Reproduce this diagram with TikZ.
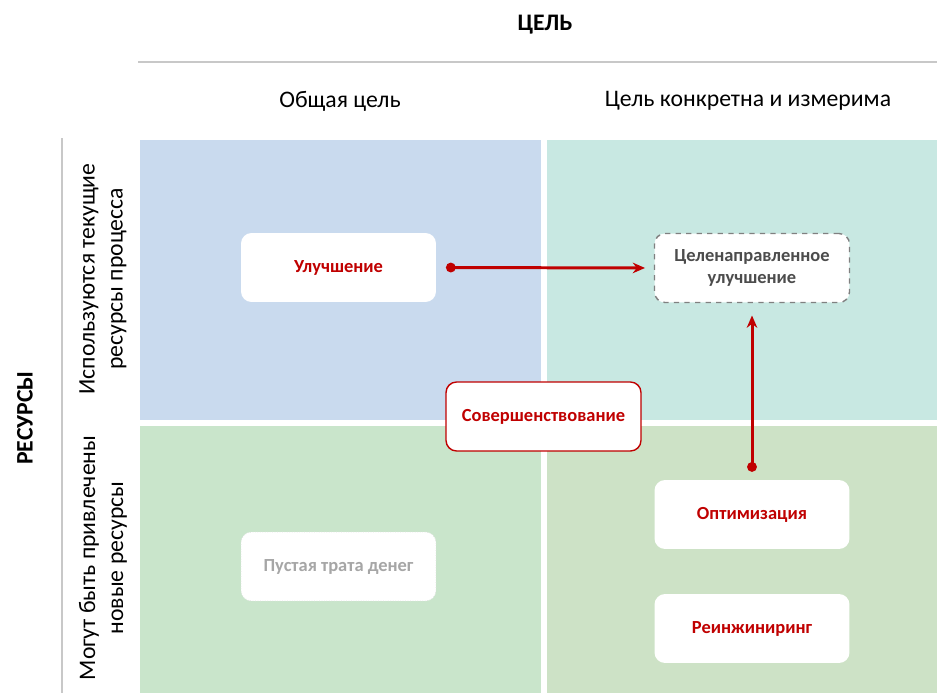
\documentclass[tikz,border=0pt]{standalone}
\usepackage{fontspec}
\setmainfont{Carlito}
\usetikzlibrary{arrows.meta}

\definecolor{qblue}{HTML}{C9DAEE}
\definecolor{qteal}{HTML}{C8E8E2}
\definecolor{qgreen}{HTML}{C9E5CB}
\definecolor{qolive}{HTML}{CDE2C6}
\definecolor{accent}{HTML}{C00000}
\definecolor{rulegray}{HTML}{C8C8C8}

\begin{document}
\begin{tikzpicture}[
    x=0.02cm, y=-0.02cm,
    font=\fontsize{13.5}{16}\selectfont,
    >={Stealth[length=7pt,width=6pt]},
    quad/.style={fill=#1, draw=none},
    box/.style={
        fill=white, rounded corners=6pt, minimum width=3.9cm, minimum height=1.38cm,
        align=center, inner sep=2pt, font=\fontsize{10.5}{13}\selectfont\bfseries, text=accent
    },
    hdr/.style={font=\fontsize{13.5}{16}\selectfont\bfseries},
    lbl/.style={font=\fontsize{13.5}{16}\selectfont, align=center},
    link/.style={{Circle[length=5.5pt]}->, draw=accent, line width=1.7pt},
]
\useasboundingbox (0,0) rectangle (937,693);

% ---- Headers ------------------------------------------------------
\node[hdr] (goal) at (545,25) {ЦЕЛЬ};
\draw[rulegray, line width=1.2pt] (138,62) -- (937,62);
\node[lbl] (general) at (340,101) {Общая цель};
\node[lbl] (specific) at (748,101) {Цель конкретна и измерима};

\node[hdr, rotate=90] (res) at (25,418) {РЕСУРСЫ};
\draw[rulegray, line width=1.2pt] (62,138) -- (62,693);
\node[lbl, rotate=90] (current) at (103,279) {Используются текущие\\ресурсы процесса};
\node[lbl, rotate=90] (newres) at (103,558) {Могут быть привлечены\\новые ресурсы};

% ---- Quadrants -----------------------------------------------------
\fill[qblue]  (140,140) rectangle (541,420);
\fill[qteal]  (547,140) rectangle (937,420);
\fill[qgreen] (140,426) rectangle (541,693);
\fill[qolive] (547,426) rectangle (937,693);

% ---- Boxes ---------------------------------------------------------
\node[box] (impr) at (338.5,267.5) {Улучшение};
\node[box, draw=black!50, dashed, line width=0.8pt, text=black!70] (target) at (752,268) {Целенаправленное\\улучшение};
\node[box, draw=accent, line width=0.8pt] (perf) at (543.5,416.5) {Совершенствование};
\node[box] (optim) at (752,514.5) {Оптимизация};
\node[box] (reeng) at (752,628.5) {Реинжиниринг};
\node[box, draw=black!12, densely dotted, text=black!35] (waste) at (338.5,566.5) {Пустая трата денег};

% ---- Links ---------------------------------------------------------
\draw[link, shorten <=5.5pt, shorten >=5pt] (impr.east) -- (target.west);
\draw[link, shorten <=4.5pt, shorten >=7pt] (optim.north) -- (target.south);

\end{tikzpicture}
\end{document}
